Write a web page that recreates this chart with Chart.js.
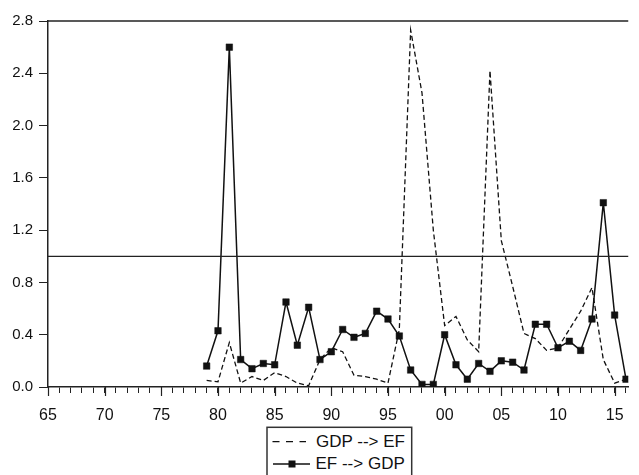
<!DOCTYPE html>
<html>
<head>
<meta charset="utf-8">
<script src="https://cdn.jsdelivr.net/npm/chart.js@4.4.1/dist/chart.umd.min.js"></script>
<style>
    html, body { margin: 0; padding: 0; background: #fff; overflow: hidden; }
    #wrap { position: relative; width: 639px; height: 475px; }
    #legend { position: absolute; left: 260px; top: 420px; }
    #legend text { font-family: 'Liberation Sans', Arial, sans-serif; font-size: 17px; fill: #111; }
</style>
</head>
<body>
<div id="wrap">
    <canvas id="myChart" width="639" height="475"></canvas>
    <svg id="legend" width="160" height="55">
        <rect x="7" y="7.3" width="144.7" height="60" fill="#fff" stroke="#333" stroke-width="1.5"></rect>
        <line x1="12.5" y1="21.7" x2="46" y2="21.7" stroke="#111" stroke-width="1.3" stroke-dasharray="7 6.5"></line>
        <text x="56" y="26.7">GDP --&gt; EF</text>
        <line x1="13" y1="44" x2="50" y2="44" stroke="#111" stroke-width="1.5"></line>
        <rect x="28.5" y="40.5" width="7" height="7" fill="#111"></rect>
        <text x="55.5" y="49">EF --&gt; GDP</text>
    </svg>
</div>
<script>
const YEARS = [1979, 1980, 1981, 1982, 1983, 1984, 1985, 1986, 1987, 1988,
               1989, 1990, 1991, 1992, 1993, 1994, 1995, 1996, 1997, 1998,
               1999, 2000, 2001, 2002, 2003, 2004, 2005, 2006, 2007, 2008,
               2009, 2010, 2011, 2012, 2013, 2014, 2015, 2016]

const GDP_TO_EF = [0.05, 0.04, 0.34, 0.03, 0.08, 0.05, 0.11, 0.08, 0.03, 0.01,
                   0.21, 0.30, 0.27, 0.09, 0.08, 0.06, 0.03, 0.44, 2.73, 2.25,
                   1.20, 0.47, 0.54, 0.36, 0.27, 2.42, 1.12, 0.77, 0.41, 0.37,
                   0.28, 0.30, 0.44, 0.58, 0.76, 0.21, 0.03, 0.06]

const EF_TO_GDP = [0.16, 0.43, 2.60, 0.21, 0.14, 0.18, 0.17, 0.65, 0.32, 0.61,
                   0.21, 0.27, 0.44, 0.38, 0.41, 0.58, 0.52, 0.39, 0.13, 0.02,
                   0.02, 0.40, 0.17, 0.06, 0.18, 0.12, 0.20, 0.19, 0.13, 0.48,
                   0.48, 0.30, 0.35, 0.28, 0.52, 1.41, 0.55, 0.06]

const SERIES_LABELS = ["GDP --> EF", "EF --> GDP"]
const Y_TICKS = [0.0, 0.4, 0.8, 1.2, 1.6, 2.0, 2.4, 2.8]
const X_MIN = 1965
const X_MAX = 2016.2
const REF_LINE = 1.0

const INK = '#111';
const FONT = "'Liberation Sans', Arial, sans-serif";

/** toPoints: pairs years with series values for a linear x axis */
function toPoints(values) {
    return values.map((v, i) => ({ x: YEARS[i], y: v }));
}

/** framePlugin: draws top frame line, the 1.0 reference line and longer major x ticks */
const framePlugin = {
    id: 'frame',
    afterDraw(chart) {
        const ctx = chart.ctx;
        const area = chart.chartArea;
        const xs = chart.scales.x;
        const ys = chart.scales.y;
        ctx.save();
        ctx.strokeStyle = '#222';
        ctx.lineWidth = 1.5;
        ctx.beginPath();
        ctx.moveTo(area.left, area.top);
        ctx.lineTo(area.right, area.top);
        ctx.stroke();

        // reference line at 1.0
        const yRef = ys.getPixelForValue(REF_LINE);
        ctx.lineWidth = 1.3;
        ctx.beginPath();
        ctx.moveTo(area.left, yRef);
        ctx.lineTo(area.right, yRef);
        ctx.stroke();

        // major ticks every 5 years are longer
        ctx.lineWidth = 1.2;
        for (let yr = X_MIN; yr <= X_MAX; yr += 5) {
            const px = Math.round(xs.getPixelForValue(yr)) + 0.5;
            ctx.beginPath();
            ctx.moveTo(px, area.bottom);
            ctx.lineTo(px, area.bottom + 9);
            ctx.stroke();
        }
        ctx.restore();
    }
};

const myChart = new Chart(document.getElementById('myChart'), {
    type: 'line',
    data: {
        datasets: [
            {
                label: SERIES_LABELS[0],
                data: toPoints(GDP_TO_EF),
                borderColor: INK,
                borderWidth: 1.3,
                borderDash: [5, 3],
                pointRadius: 0,
                tension: 0
            },
            {
                label: SERIES_LABELS[1],
                data: toPoints(EF_TO_GDP),
                borderColor: INK,
                backgroundColor: INK,
                borderWidth: 1.5,
                pointStyle: 'rect',
                pointRadius: 4.6,
                pointBorderWidth: 0.5,
                tension: 0
            }
        ]
    },
    options: {
        responsive: false,
        animation: false,
        events: [],
        layout: { padding: { top: 21, right: 0, left: 0, bottom: 0 } },
        plugins: {
            legend: { display: false },
            tooltip: { enabled: false }
        },
        scales: {
            x: {
                type: 'linear',
                min: X_MIN,
                max: X_MAX,
                afterFit(scale) { scale.height = 88; },
                border: { display: true, color: '#222', width: 1.5 },
                grid: {
                    display: true,
                    drawOnChartArea: false,
                    drawTicks: true,
                    tickLength: 6,
                    color: '#222',
                    lineWidth: 1
                },
                ticks: {
                    stepSize: 1,
                    autoSkip: false,
                    includeBounds: false,
                    maxRotation: 0,
                    padding: 13,
                    color: INK,
                    font: { family: FONT, size: 16 },
                    callback: (v) => (v % 5 === 0 ? String(v).slice(-2) : '')
                }
            },
            y: {
                min: 0,
                max: 2.8,
                afterFit(scale) { scale.width = 48; },
                afterBuildTicks(scale) { scale.ticks = Y_TICKS.map(v => ({ value: v })); },
                border: { display: true, color: '#222', width: 1.5 },
                grid: {
                    display: true,
                    drawOnChartArea: false,
                    drawTicks: true,
                    tickLength: 9,
                    color: '#222',
                    lineWidth: 1
                },
                ticks: {
                    padding: 6,
                    color: INK,
                    font: { family: FONT, size: 15 },
                    callback: (v) => v.toFixed(1)
                }
            }
        }
    },
    plugins: [framePlugin]
});
</script>
</body>
</html>
